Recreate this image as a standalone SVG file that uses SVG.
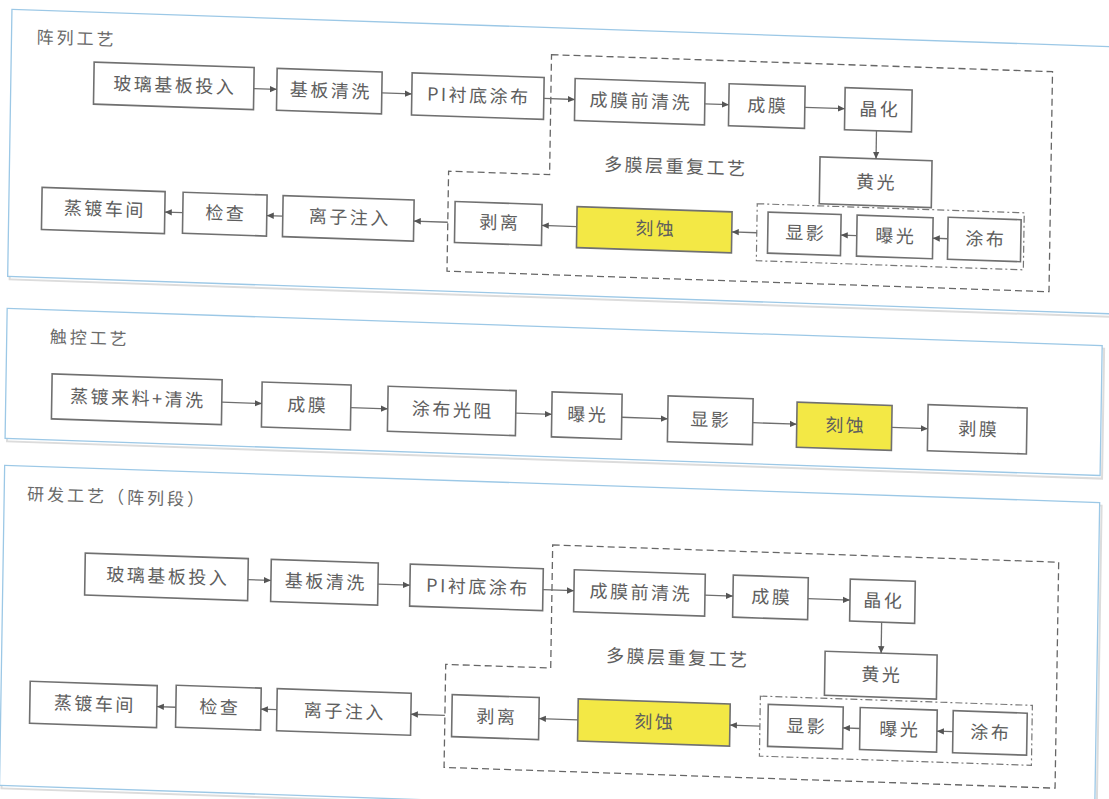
<svg xmlns="http://www.w3.org/2000/svg" width="1109" height="799" viewBox="0 0 1109 799">
<style>
  .panel{fill:#ffffff;stroke:#9cc8e6;stroke-width:1.3}
  .shadow{fill:none;stroke:#dcdcdc;stroke-width:2}
  .box{fill:#ffffff;stroke:#707070;stroke-width:1.6}
  .hl{fill:#f3e845;stroke:#707070;stroke-width:1.6}
  .t{font-family:"Noto Sans CJK SC","Noto Sans CJK JP",sans-serif;font-size:18px;fill:#5e5e5e;text-anchor:middle;letter-spacing:2.5px}
  .title{font-family:"Noto Sans CJK SC","Noto Sans CJK JP",sans-serif;font-size:17px;fill:#6a6a6a;letter-spacing:3px}
  .dash{fill:none;stroke:#666666;stroke-width:1.3;stroke-dasharray:7 4}
  .dashdot{fill:none;stroke:#777777;stroke-width:1.2;stroke-dasharray:7 3 2 3}
  .c{fill:none;stroke:#6e6e6e;stroke-width:1.3;marker-end:url(#ah)}
</style>
<defs>
  <marker id="ah" markerUnits="userSpaceOnUse" markerWidth="8" markerHeight="8" refX="7" refY="4" orient="auto">
    <path d="M0,0.8 L7,4 L0,7.2 Z" fill="#555555"/>
  </marker>
</defs>
<rect width="1109" height="799" fill="#ffffff"/>
<g transform="matrix(1,0.034,-0.016,1,6.4,-18.9)">
  <!-- Panel 1 -->
  <g id="panel-array">
    <rect class="shadow" x="8" y="31" width="1115" height="267"/>
    <rect class="panel" x="6" y="28" width="1115" height="267"/>
    <text class="title" x="31" y="61">阵列工艺</text>
  </g>
  <g id="p1-multilayer">
    <path class="dash" d="M546,55 H1047 V275 H445 V175 H546 Z"/>
    <text class="t" x="672" y="169">多膜层重复工艺</text>
  </g>
  <g id="p1-litho"><rect class="dashdot" x="754" y="197" width="267" height="57"/></g>
  <g id="p1-glass"><rect class="box" x="89" y="78" width="160" height="42"/><text class="t" x="170" y="105">玻璃基板投入</text></g>
  <g id="p1-clean"><rect class="box" x="272" y="78" width="105" height="42"/><text class="t" x="326" y="105">基板清洗</text></g>
  <g id="p1-pi"><rect class="box" x="407" y="78" width="132" height="42"/><text class="t" x="474" y="105">PI衬底涂布</text></g>
  <g id="p1-preclean"><rect class="box" x="570" y="78" width="130" height="42"/><text class="t" x="636" y="105">成膜前清洗</text></g>
  <g id="p1-film"><rect class="box" x="724" y="78" width="76" height="42"/><text class="t" x="763" y="105">成膜</text></g>
  <g id="p1-cryst"><rect class="box" x="840" y="78" width="67" height="42"/><text class="t" x="875" y="105">晶化</text></g>
  <g id="p1-yellowlight"><rect class="box" x="816" y="148" width="112" height="47"/><text class="t" x="873" y="178">黄光</text></g>
  <g id="p1-dev"><rect class="box" x="765" y="205" width="73" height="41"/><text class="t" x="803" y="231">显影</text></g>
  <g id="p1-exp"><rect class="box" x="854" y="205" width="76" height="41"/><text class="t" x="893" y="231">曝光</text></g>
  <g id="p1-coat"><rect class="box" x="945" y="204" width="73" height="42"/><text class="t" x="983" y="231">涂布</text></g>
  <g id="p1-etch"><rect class="hl" x="574" y="206" width="155" height="41"/><text class="t" x="653" y="232">刻蚀</text></g>
  <g id="p1-strip"><rect class="box" x="452" y="205" width="87" height="41"/><text class="t" x="497" y="231">剥离</text></g>
  <g id="p1-ion"><rect class="box" x="280" y="205" width="131" height="41"/><text class="t" x="347" y="231">离子注入</text></g>
  <g id="p1-check"><rect class="box" x="180" y="205" width="84" height="41"/><text class="t" x="223" y="231">检查</text></g>
  <g id="p1-evap"><rect class="box" x="39" y="205" width="123" height="42"/><text class="t" x="102" y="231">蒸镀车间</text></g>

  <!-- Panel 2 -->
  <g id="panel-touch">
    <rect class="shadow" x="8" y="330" width="1095" height="130"/>
    <rect class="panel" x="6" y="327" width="1095" height="130"/>
    <text class="title" x="49" y="360">触控工艺</text>
  </g>
  <g id="p2-evap"><rect class="box" x="52" y="391" width="170" height="45"/><text class="t" x="138" y="419">蒸镀来料+清洗</text></g>
  <g id="p2-film"><rect class="box" x="262" y="392" width="89" height="45"/><text class="t" x="308" y="420">成膜</text></g>
  <g id="p2-coat"><rect class="box" x="388" y="392" width="128" height="45"/><text class="t" x="453" y="420">涂布光阻</text></g>
  <g id="p2-exp"><rect class="box" x="552" y="392" width="70" height="45"/><text class="t" x="588" y="420">曝光</text></g>
  <g id="p2-dev"><rect class="box" x="668" y="392" width="85" height="46"/><text class="t" x="711" y="421">显影</text></g>
  <g id="p2-etch"><rect class="hl" x="797" y="394" width="95" height="45"/><text class="t" x="846" y="422">刻蚀</text></g>
  <g id="p2-strip"><rect class="box" x="928" y="392" width="99" height="46"/><text class="t" x="979" y="421">剥膜</text></g>

  <!-- Panel 3 -->
  <g id="panel-rd">
    <rect class="shadow" x="8" y="487" width="1095" height="320"/>
    <rect class="panel" x="6" y="484" width="1095" height="320"/>
    <text class="title" x="29" y="518">研发工艺（阵列段）</text>
  </g>
  <g id="p3-multilayer">
    <path class="dash" d="M555,545 H1061 V771 H450 V668 H555 Z"/>
    <text class="t" x="682" y="660">多膜层重复工艺</text>
  </g>
  <g id="p3-litho"><rect class="dashdot" x="765" y="689" width="272" height="60"/></g>
  <g id="p3-glass"><rect class="box" x="88" y="569" width="163" height="42"/><text class="t" x="171" y="596">玻璃基板投入</text></g>
  <g id="p3-clean"><rect class="box" x="274" y="569" width="107" height="42"/><text class="t" x="329" y="596">基板清洗</text></g>
  <g id="p3-pi"><rect class="box" x="413" y="569" width="133" height="42"/><text class="t" x="481" y="596">PI衬底涂布</text></g>
  <g id="p3-preclean"><rect class="box" x="577" y="569" width="131" height="42"/><text class="t" x="644" y="596">成膜前清洗</text></g>
  <g id="p3-film"><rect class="box" x="736" y="569" width="75" height="42"/><text class="t" x="775" y="596">成膜</text></g>
  <g id="p3-cryst"><rect class="box" x="853" y="569" width="65" height="42"/><text class="t" x="887" y="596">晶化</text></g>
  <g id="p3-yellowlight"><rect class="box" x="829" y="642" width="112" height="44"/><text class="t" x="886" y="670">黄光</text></g>
  <g id="p3-dev"><rect class="box" x="773" y="697" width="75" height="42"/><text class="t" x="812" y="724">显影</text></g>
  <g id="p3-exp"><rect class="box" x="865" y="697" width="77" height="42"/><text class="t" x="905" y="724">曝光</text></g>
  <g id="p3-coat"><rect class="box" x="958" y="697" width="74" height="42"/><text class="t" x="996" y="724">涂布</text></g>
  <g id="p3-etch"><rect class="hl" x="583" y="698" width="152" height="42"/><text class="t" x="660" y="725">刻蚀</text></g>
  <g id="p3-strip"><rect class="box" x="457" y="698" width="87" height="42"/><text class="t" x="502" y="725">剥离</text></g>
  <g id="p3-ion"><rect class="box" x="282" y="698" width="134" height="42"/><text class="t" x="350" y="725">离子注入</text></g>
  <g id="p3-check"><rect class="box" x="181" y="698" width="85" height="42"/><text class="t" x="225" y="725">检查</text></g>
  <g id="p3-evap"><rect class="box" x="35" y="699" width="127" height="42"/><text class="t" x="100" y="726">蒸镀车间</text></g>

  <!-- Connectors -->
  <g id="connectors">
    <line class="c" x1="249" y1="99" x2="272" y2="99"/>
    <line class="c" x1="377" y1="99" x2="407" y2="99"/>
    <line class="c" x1="539" y1="99" x2="570" y2="99"/>
    <line class="c" x1="700" y1="99" x2="724" y2="99"/>
    <line class="c" x1="800" y1="99" x2="840" y2="99"/>
    <line class="c" x1="872" y1="120" x2="872" y2="148"/>
    <line class="c" x1="945" y1="225.5" x2="930" y2="225.5"/>
    <line class="c" x1="854" y1="225.5" x2="838" y2="225.5"/>
    <line class="c" x1="754" y1="226" x2="729" y2="226"/>
    <line class="c" x1="574" y1="226" x2="539" y2="226"/>
    <line class="c" x1="445" y1="226" x2="411" y2="226"/>
    <line class="c" x1="280" y1="225.5" x2="264" y2="225.5"/>
    <line class="c" x1="180" y1="225.5" x2="162" y2="225.5"/>

    <line class="c" x1="222" y1="413.5" x2="262" y2="413.5"/>
    <line class="c" x1="351" y1="414.5" x2="388" y2="414.5"/>
    <line class="c" x1="516" y1="414.5" x2="552" y2="414.5"/>
    <line class="c" x1="622" y1="415" x2="668" y2="415"/>
    <line class="c" x1="753" y1="416" x2="797" y2="416"/>
    <line class="c" x1="892" y1="416" x2="928" y2="416"/>

    <line class="c" x1="251" y1="590" x2="274" y2="590"/>
    <line class="c" x1="381" y1="590" x2="413" y2="590"/>
    <line class="c" x1="546" y1="590" x2="577" y2="590"/>
    <line class="c" x1="708" y1="590" x2="736" y2="590"/>
    <line class="c" x1="811" y1="590" x2="853" y2="590"/>
    <line class="c" x1="885" y1="611" x2="885" y2="642"/>
    <line class="c" x1="958" y1="718" x2="942" y2="718"/>
    <line class="c" x1="865" y1="718" x2="848" y2="718"/>
    <line class="c" x1="765" y1="719" x2="735" y2="719"/>
    <line class="c" x1="583" y1="719" x2="544" y2="719"/>
    <line class="c" x1="450" y1="719" x2="416" y2="719"/>
    <line class="c" x1="282" y1="719" x2="266" y2="719"/>
    <line class="c" x1="181" y1="720" x2="162" y2="720"/>
  </g>
</g>
</svg>
